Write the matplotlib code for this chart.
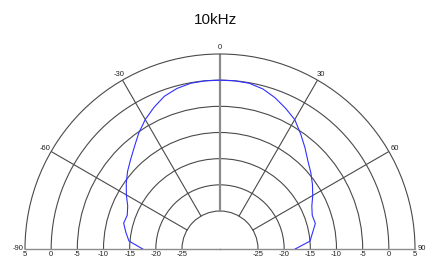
#!/usr/bin/env python3
from __future__ import annotations

import matplotlib as mpl

mpl.use("Agg")
import matplotlib.pyplot as plt
import numpy as np


TITLE = "10kHz"

# polar response, degrees off axis vs level in dB
ANGLES_DEG = [-90, -85, -80, -75, -70, -65, -60, -55, -50, -45, -40, -35, -30,
              -25, -20, -15, -10, -5, 0, 5, 10, 15, 20, 25, 30, 35, 40, 45,
              50, 55, 60, 65, 70, 75, 80, 85, 90]
LEVEL_DB = [-17.5, -14.8, -14.0, -13.2, -13.4, -12.8, -11.6, -10.4, -9.2, -8.1,
            -6.8, -5.2, -3.7, -2.4, -1.2, -0.5, -0.1, 0.0, 0.0, 0.0, -0.1, -0.6,
            -1.5, -2.6, -3.7, -5.4, -7.0, -8.5, -9.6, -10.7, -11.8, -12.9,
            -13.5, -13.4, -14.3, -15.0, -17.9]

THETA_TICKS = [-90, -60, -30, 0, 30, 60, 90]
THETA_LABELS = ["-90", "-60", "-30", "0", "30", "60", "90"]
R_TICKS = [-25, -20, -15, -10, -5, 0, 5]
R_CENTER = -32.26

GRID = "#4a4a4a"
AXIS_GRAY = "#8c8c8c"
CURVE = "#3030ff"
TEXT = "#222222"


def main() -> None:
    mpl.rcParams.update({"font.family": ["Liberation Sans", "DejaVu Sans"]})
    fig = plt.figure(figsize=(4.33, 2.65), dpi=100)
    # polar axes stays square; the half disc sits in the middle of it
    ax = fig.add_axes([25 / 433, (265 - 346.5) / 265, 390 / 433, 390 / 265], projection="polar")
    ax.set_theta_zero_location("N")
    ax.set_theta_direction(-1)
    ax.set_thetamin(-90)
    ax.set_thetamax(90)
    ax.set_rlim(R_CENTER, R_TICKS[-1])

    # circles only, spokes drawn by hand so they start at the inner ring
    ax.set_rgrids(R_TICKS[:-1], labels=[""] * (len(R_TICKS) - 1))
    ax.yaxis.grid(True, color=GRID, linewidth=0.8)
    ax.xaxis.grid(False)
    ax.set_thetagrids(THETA_TICKS, THETA_LABELS, fontsize=5.5, color=TEXT)
    ax.tick_params(axis="x", pad=-5.5)

    for th in THETA_TICKS[1:-1]:
        if th == 0:
            ax.plot([0, 0], [R_TICKS[0], R_TICKS[-1]], color=AXIS_GRAY, lw=1.6, zorder=2)
        else:
            ax.plot([np.radians(th)] * 2, [R_TICKS[0], R_TICKS[-1]], color=GRID, lw=0.8, zorder=2)

    ax.spines["polar"].set_color(GRID)
    ax.spines["polar"].set_linewidth(0.8)
    for side in ("start", "end"):
        ax.spines[side].set_color(AXIS_GRAY)
        ax.spines[side].set_linewidth(1.0)
    ax.spines["inner"].set_visible(False)

    for th in (-90, 90):
        for r in R_TICKS:
            ax.annotate(str(r), (np.radians(th), r), xytext=(0, -1.5), textcoords="offset points",
                        ha="center", va="top", fontsize=5.5, color=TEXT, annotation_clip=False)

    ax.plot(np.radians(ANGLES_DEG), LEVEL_DB, color=CURVE, lw=0.8, zorder=3)

    fig.text(0.497, 1 - 20 / 265, TITLE, ha="center", va="center", fontsize=11, color="#111111")
    fig.savefig("out.png", dpi=100, facecolor="white")
    plt.close(fig)


if __name__ == "__main__":
    main()
